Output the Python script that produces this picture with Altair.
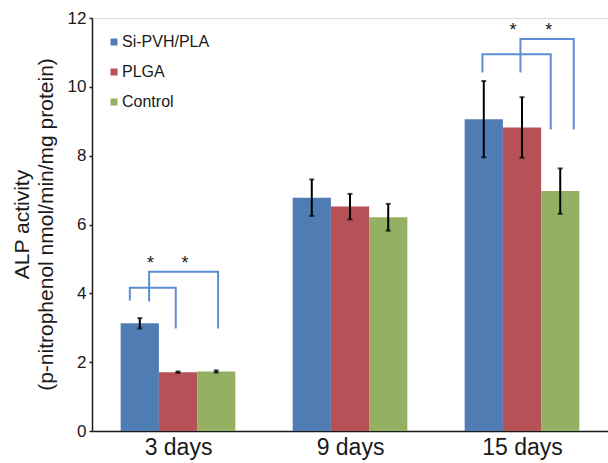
import json
import altair as alt
import pandas as pd

# ---------------- data ----------------
groups = ["3 days", "9 days", "15 days"]
series = ["Si-PVH/PLA", "PLGA", "Control"]
colors = ["#4f7cb3", "#b65257", "#93b063"]

si_mean = [3.13, 6.78, 9.06]
plga_mean = [1.71, 6.52, 8.82]
ctrl_mean = [1.73, 6.21, 6.97]
si_err = [0.15, 0.53, 1.11]
plga_err = [0.02, 0.37, 0.88]
ctrl_err = [0.03, 0.39, 0.66]

y_ticks = [0, 2, 4, 6, 8, 10, 12]

# significance brackets (offsets relative to the group centre, in group steps)
br_group = ["3 days", "3 days", "15 days", "15 days"]
br_left = [-0.280, -0.168, -0.230, -0.009]
br_right = [-0.013, 0.233, 0.167, 0.301]
br_left_y = [3.79, 3.76, 10.42, 10.42]
br_top_y = [4.16, 4.63, 10.95, 11.39]
br_right_y = [2.98, 2.98, 8.76, 8.76]
star_offset = [-0.160, 0.040, -0.052, 0.155]
star_y = [5.0, 5.0, 11.77, 11.77]

# ---------------- tables ----------------
means = [si_mean, plga_mean, ctrl_mean]
errs = [si_err, plga_err, ctrl_err]
bar_w = 2 / 9
rows = []
for gi, g in enumerate(groups):
    for si, s in enumerate(series):
        x0 = gi + 0.5 - 1 / 3 + si * bar_w
        m = means[si][gi]
        e = errs[si][gi]
        rows.append(dict(group=g, series=s, x0=x0, x1=x0 + bar_w, xc=x0 + bar_w / 2,
                         mean=m, base=0, lo=m - e, hi=m + e))
bars_df = pd.DataFrame(rows)

br_rows = []
for b in range(len(br_group)):
    gc = groups.index(br_group[b]) + 0.5
    pts = [(gc + br_left[b], br_left_y[b]), (gc + br_left[b], br_top_y[b]),
           (gc + br_right[b], br_top_y[b]), (gc + br_right[b], br_right_y[b])]
    for k, (px, py) in enumerate(pts):
        br_rows.append(dict(bracket=b, order=k, x=px, y=py))
br_df = pd.DataFrame(br_rows)

star_df = pd.DataFrame({
    "x": [groups.index(g) + 0.5 + o for g, o in zip(br_group, star_offset)],
    "y": star_y,
    "t": ["*"] * len(star_y),
})

FONT = "Liberation Sans"
label_expr = json.dumps(groups) + "[floor(datum.value)]"

xscale = alt.Scale(domain=[0, 3], nice=False, zero=False, padding=0)
yscale = alt.Scale(domain=[0, 12], nice=False, padding=0)

x_axis = alt.Axis(values=[0.5, 1.5, 2.5], labelExpr=label_expr, title=None,
                  grid=False, ticks=False, labelFontSize=23, labelFont=FONT,
                  labelColor="#1a1a1a", labelPadding=5, domainColor="#1a1a1a",
                  domainWidth=1.5)
y_axis = alt.Axis(values=y_ticks, grid=False, tickSize=3, tickColor="#1a1a1a",
                  tickWidth=1.5, labelFontSize=17, labelFont=FONT,
                  labelColor="#1a1a1a", labelPadding=3, domainColor="#1a1a1a",
                  domainWidth=1.5,
                  title=["ALP activity", "(p-nitrophenol nmol/min/mg protein)"],
                  titleFontSize=21, titleFont=FONT, titleFontWeight="normal",
                  titleColor="#1a1a1a", titleLineHeight=24,
                  titleX=-64, titleY=206, titleBaseline="alphabetic",
                  titleAlign="center", titleAngle=270)

bars = alt.Chart(bars_df).mark_bar(orient="vertical").encode(
    x=alt.X("x0:Q", scale=xscale, axis=x_axis),
    x2="x1:Q",
    y=alt.Y("mean:Q", scale=yscale, axis=y_axis),
    y2="base:Q",
    color=alt.Color("series:N", scale=alt.Scale(domain=series, range=colors),
                    sort=series,
                    legend=alt.Legend(title=None, orient="none", legendX=14, legendY=16,
                                      symbolType="square", symbolSize=49,
                                      symbolStrokeWidth=0, labelFontSize=16,
                                      labelFont=FONT, labelColor="#1a1a1a",
                                      labelOffset=0, rowPadding=14, padding=0)),
)

err_rule = alt.Chart(bars_df).mark_rule(color="black", strokeWidth=2).encode(
    x="xc:Q", y="lo:Q", y2="hi:Q")
err_top = alt.Chart(bars_df).mark_tick(color="black", thickness=2, size=5,
                                       orient="horizontal").encode(x="xc:Q", y="hi:Q")
err_bot = alt.Chart(bars_df).mark_tick(color="black", thickness=2, size=5,
                                       orient="horizontal").encode(x="xc:Q", y="lo:Q")

brackets = alt.Chart(br_df).mark_line(color="#5b8fd2", strokeWidth=2).encode(
    x="x:Q", y="y:Q", detail="bracket:N", order="order:Q")

stars = alt.Chart(star_df).mark_text(fontSize=18, font=FONT, color="#1a1a1a",
                                     baseline="alphabetic", dy=10).encode(
    x="x:Q", y="y:Q", text="t:N")

chart = alt.layer(bars, err_rule, err_top, err_bot, brackets, stars).properties(
    width=516, height=413,
    autosize=alt.AutoSizeParams(type="none"),
    padding={"left": 92, "top": 18, "right": 0, "bottom": 32},
).configure_view(stroke="#1a1a1a", strokeWidth=1.5).configure(background="white")

chart.save("out.html", embed_options={"renderer": "svg", "actions": False})
